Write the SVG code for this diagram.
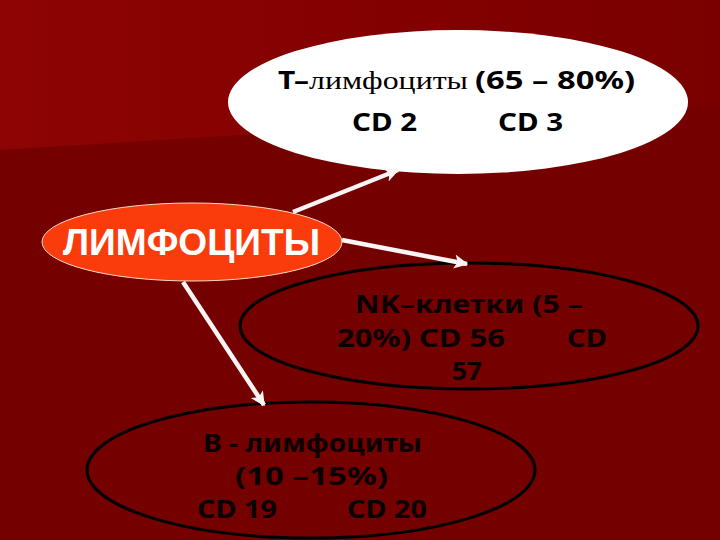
<svg xmlns="http://www.w3.org/2000/svg" width="720" height="540" viewBox="0 0 720 540">
  <defs>
    <linearGradient id="band" x1="0" y1="0" x2="1" y2="0">
      <stop offset="0" stop-color="#8e0404"/>
      <stop offset="0.6" stop-color="#820000"/>
      <stop offset="1" stop-color="#7a0000"/>
    </linearGradient>
    <marker id="arrow" viewBox="0 0 10 10" refX="9" refY="5" markerWidth="3.2" markerHeight="3.2" orient="auto" markerUnits="strokeWidth">
      <path d="M0,0 L10,5 L0,10 L2.5,5 Z" fill="#fbf4f4"/>
    </marker>
    <style>
      .sans { font-family: "Noto Sans", "DejaVu Sans", Verdana, sans-serif; font-weight: bold; fill: #000; }
      .serif { font-family: "Liberation Serif", "Times New Roman", serif; fill: #000; }
      .dark { fill: #0a0000; }
      .conn { stroke: #fbf4f4; stroke-width: 4.5; fill: none; marker-end: url(#arrow); }
      .ring { fill: none; stroke: #000; stroke-width: 3; }
    </style>
  </defs>

  <!-- background -->
  <rect x="0" y="0" width="720" height="540" fill="#740000"/>
  <polygon points="0,0 720,0 720,105 0,150" fill="url(#band)"/>

  <!-- NK-cells node -->
  <g id="nk-cells">
    <ellipse class="ring" cx="469" cy="326" rx="229" ry="63"/>
    <text class="sans dark" x="355" y="313" font-size="25" textLength="228" lengthAdjust="spacingAndGlyphs">NK–клетки (5 –</text>
    <text class="sans dark" x="337" y="347" font-size="25" textLength="168" lengthAdjust="spacingAndGlyphs">20%) CD 56</text>
    <text class="sans dark" x="567" y="347" font-size="25" textLength="40" lengthAdjust="spacingAndGlyphs">CD</text>
    <text class="sans dark" x="452" y="380" font-size="25" textLength="30" lengthAdjust="spacingAndGlyphs">57</text>
  </g>

  <!-- B-lymphocytes node -->
  <g id="b-lymphocytes">
    <ellipse class="ring" cx="311" cy="470" rx="224" ry="68"/>
    <text class="sans dark" x="203" y="452" font-size="25" textLength="219" lengthAdjust="spacingAndGlyphs">В - лимфоциты</text>
    <text class="sans dark" x="235" y="485" font-size="25" textLength="153" lengthAdjust="spacingAndGlyphs">(10 –15%)</text>
    <text class="sans dark" x="197" y="518" font-size="25" textLength="80" lengthAdjust="spacingAndGlyphs">CD 19</text>
    <text class="sans dark" x="347" y="518" font-size="25" textLength="80" lengthAdjust="spacingAndGlyphs">CD 20</text>
  </g>

  <!-- T-lymphocytes node -->
  <g id="t-lymphocytes">
    <ellipse cx="458" cy="102" rx="230" ry="72" fill="#ffffff"/>
    <text class="sans" x="278" y="89" font-size="25" textLength="31" lengthAdjust="spacingAndGlyphs">Т–</text>
    <text class="serif" x="309" y="89" font-size="26" textLength="159" lengthAdjust="spacingAndGlyphs">лимфоциты</text>
    <text class="sans" x="475" y="89" font-size="25" textLength="160" lengthAdjust="spacingAndGlyphs">(65 – 80%)</text>
    <text class="sans" x="352" y="131" font-size="25" textLength="65" lengthAdjust="spacingAndGlyphs">CD 2</text>
    <text class="sans" x="498" y="131" font-size="25" textLength="65" lengthAdjust="spacingAndGlyphs">CD 3</text>
  </g>

  <!-- Lymphocytes (root) node -->
  <g id="lymphocytes">
    <ellipse cx="192" cy="242" rx="150" ry="39" fill="#fa3c0c" stroke="#ffd8c8" stroke-width="1"/>
    <text x="63" y="255" font-family="'Liberation Sans', Arial, sans-serif" font-weight="bold" font-size="37" fill="#ffffff" textLength="257" lengthAdjust="spacingAndGlyphs">ЛИМФОЦИТЫ</text>
  </g>

  <!-- connectors -->
  <g id="connectors">
    <line class="conn" x1="293" y1="212" x2="398" y2="170"/>
    <line class="conn" x1="342" y1="240" x2="467" y2="264"/>
    <line class="conn" x1="183" y1="282" x2="264" y2="405"/>
  </g>
</svg>
